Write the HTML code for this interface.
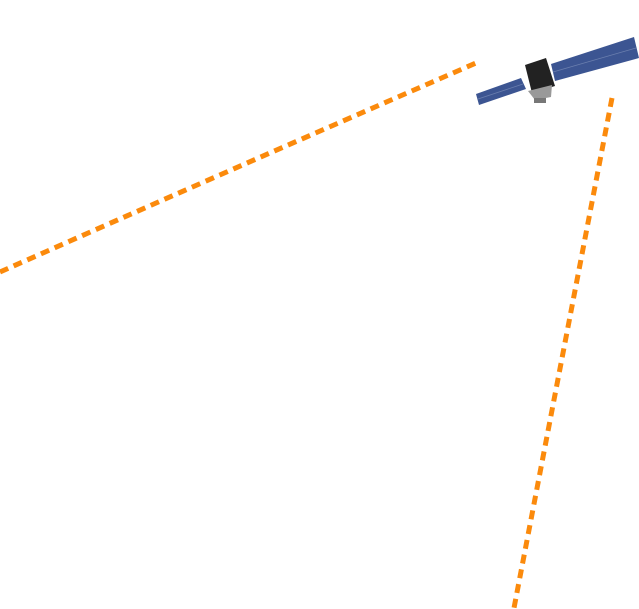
<!DOCTYPE html>
<html><head><style>html,body{margin:0;padding:0;background:#fff;}svg{display:block}</style></head>
<body>
<svg width="639" height="609" viewBox="0 0 639 609" xmlns="http://www.w3.org/2000/svg">
<path d="M0,272 Q230,170 476,63" fill="none" stroke="#fb8a0c" stroke-width="5" stroke-dasharray="9,6"/>
<path d="M612,98 L514,608" fill="none" stroke="#fb8a0c" stroke-width="5" stroke-dasharray="9,6"/>
<polygon points="476,94 479,105 526,89 521,78" fill="#3c5592"/>
<line x1="478" y1="99" x2="523" y2="84" stroke="#6b7fae" stroke-width="0.8"/>
<polygon points="551,64 555,81 639,58 634,37" fill="#3c5592"/>
<line x1="553" y1="72" x2="636" y2="48" stroke="#6b7fae" stroke-width="0.8"/>
<polygon points="525,65 546,58 555,86 532,93" fill="#222"/>
<polygon points="528,91 552,85 551,97 535,100" fill="#999"/>
<rect x="534" y="98" width="12" height="5" fill="#777"/>
</svg>
</body></html>
